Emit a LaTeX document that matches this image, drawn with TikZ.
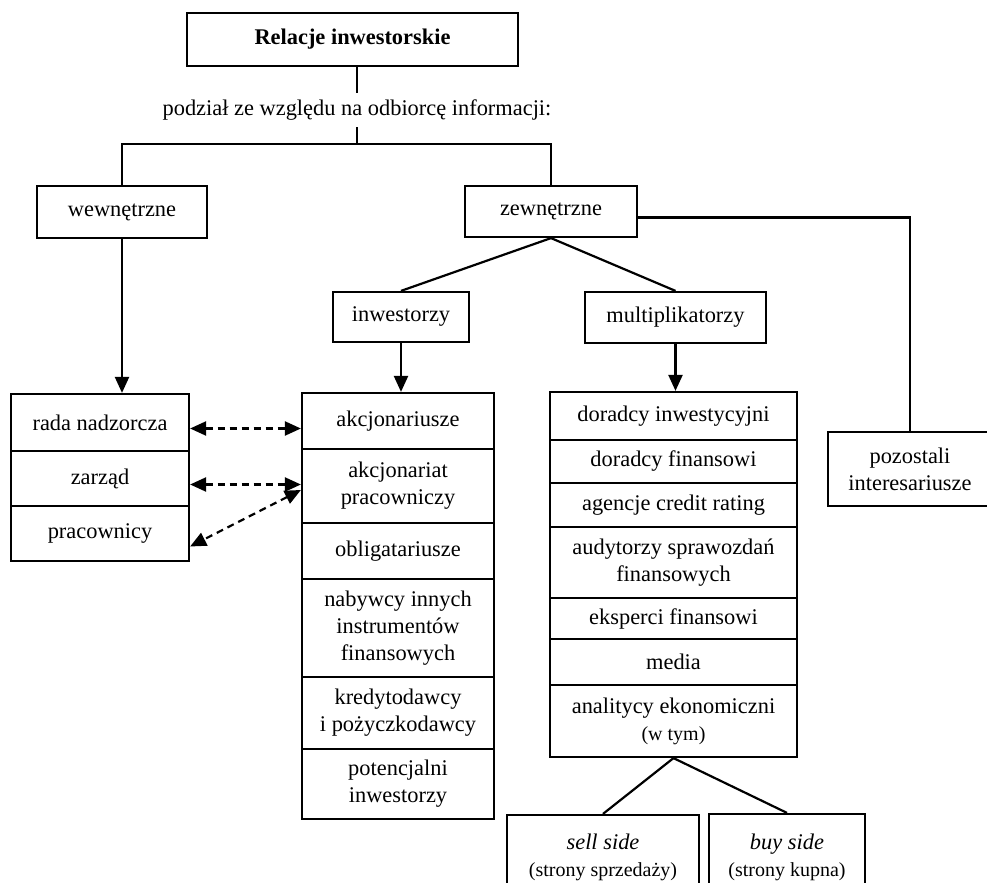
\documentclass[tikz,border=0pt]{standalone}
\usepackage{fontspec}
\setmainfont{Liberation Serif}
\usetikzlibrary{arrows.meta,calc}
\tikzset{
  every node/.style={font=\fontsize{11.2}{13.4}\selectfont},
  box/.style={draw, line width=1.1pt, inner sep=0pt, align=center},
  lrow/.style={box, minimum width=89pt},
  irow/.style={box, minimum width=96pt},
  mrow/.style={box, minimum width=123.5pt},
  link/.style={line width=1.1pt},
  arr/.style={link, -{Triangle[length=8pt,width=7pt]}},
  dasharr/.style={link, dash pattern=on 3.5pt off 2.5pt, {Triangle[length=8pt,width=7pt]}-{Triangle[length=8pt,width=7pt]}}
}
\newcommand{\smalltxt}[1]{{\fontsize{10}{12}\selectfont #1}}

\begin{document}
\begin{tikzpicture}[x=0.5pt, y=-0.5pt]
			%%%%% START %%%%%
			\clip (0,0) rectangle (987,883);
			
			\node[box, minimum width=165.5pt, minimum height=26.5pt] (rel) at (352.5,39.5) {\textbf{Relacje inwestorskie}};
			\node (podzial) at (357,110) {podział ze względu na odbiorcę informacji:};
			\coordinate (split) at (357,144);
			
			\node[box, minimum width=85pt, minimum height=26pt] (wew) at (122,212) {wewnętrzne};
			\node[box, minimum width=86pt, minimum height=25.5pt] (zew) at (551,211.5) {zewnętrzne};
			
			\node[box, minimum width=68pt, minimum height=25pt] (inw) at (401,317) {inwestorzy};
			\node[box, minimum width=90.5pt, minimum height=25.5pt] (mul) at (675.5,317.5) {multiplikatorzy};
			\node[box, minimum width=82pt, minimum height=37pt] (poz) at (910,469) {pozostali\\interesariusze};
			
			% wewnetrzne
			\node[lrow, minimum height=28.5pt] (rada) at (100,422.5) {rada nadzorcza};
			\node[lrow, minimum height=27.5pt] (zar) at (100,478.5) {zarząd};
			\node[lrow, minimum height=27.5pt] (prac) at (100,533.5) {pracownicy};
			
			% inwestorzy
			\node[irow, minimum height=28pt] (akcj) at (398,421) {akcjonariusze};
			\node[irow, minimum height=37pt] (akcp) at (398,486) {akcjonariat\\pracowniczy};
			\node[irow, minimum height=28pt] (obl) at (398,551) {obligatariusze};
			\node[irow, minimum height=49pt] (nab) at (398,628) {nabywcy innych\\instrumentów\\finansowych};
			\node[irow, minimum height=36pt] (kred) at (398,713) {kredytodawcy\\i pożyczkodawcy};
			\node[irow, minimum height=35pt] (pot) at (398,784) {potencjalni\\inwestorzy};
			
			% multiplikatorzy
			\node[mrow, minimum height=24pt] (dinw) at (673.5,416) {doradcy inwestycyjni};
			\node[mrow, minimum height=21.5pt] (dfin) at (673.5,461.5) {doradcy finansowi};
			\node[mrow, minimum height=22pt] (agen) at (673.5,505) {agencje credit rating};
			\node[mrow, minimum height=35.5pt] (aud) at (673.5,562.5) {audytorzy sprawozdań\\finansowych};
			\node[mrow, minimum height=20.5pt] (eksp) at (673.5,618.5) {eksperci finansowi};
			\node[mrow, minimum height=23pt] (med) at (673.5,662) {media};
			\node[mrow, minimum height=36pt] (anal) at (673.5,721) {analitycy ekonomiczni\\\smalltxt{(w tym)}};
			
			\node[box, minimum width=96pt, minimum height=42.5pt] (sell) at (603,857.5) {\textit{sell side}\\\smalltxt{(strony sprzedaży)}};
			\node[box, minimum width=78pt, minimum height=43pt] (buy) at (787,857) {\textit{buy side}\\\smalltxt{(strony kupna)}};
			
			\draw[link] (podzial.north |- rel.south) -- (podzial.north);
			\draw[link] (podzial.south) -- (split);
			\draw[link] (split) -| (wew.north);
			\draw[link] (split) -| (zew.north);
			\draw[link] (zew.south) -- (inw.north);
			\draw[link] (zew.south) -- (mul.north);
			\draw[link] ([yshift=-3pt]zew.east) -| (poz.north);
			
			\draw[arr] (wew.south) -- (wew.south |- rada.north);
			\draw[arr] (inw.south) -- (inw.south |- akcj.north);
			\draw[arr] (mul.south) -- (mul.south |- dinw.north);
			
			\draw[link] (anal.south) -- (sell.north);
			\draw[link] (anal.south) -- (buy.north);
			
			\draw[dasharr] ([yshift=-3pt]rada.east) -- ([yshift=-3pt]rada.east -| akcj.west);
			\draw[dasharr] ([yshift=-3pt]zar.east) -- ([yshift=-3pt]zar.east -| akcp.west);
			\draw[dasharr] ([yshift=-2pt]akcp.west) -- ([yshift=-6.5pt]prac.east);
			
			%%%%% END %%%%%
\end{tikzpicture}
\end{document}
